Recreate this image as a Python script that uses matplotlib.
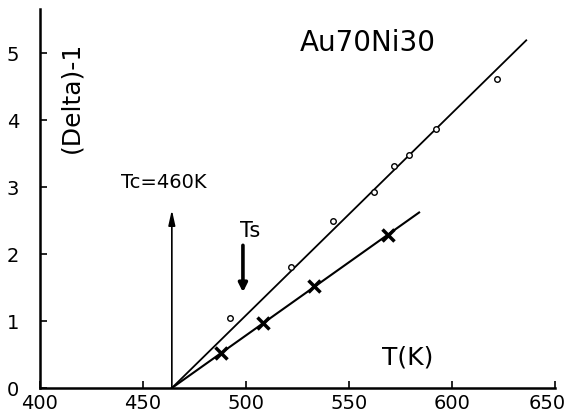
import matplotlib
matplotlib.use("Agg")
import matplotlib.pyplot as plt
from matplotlib.transforms import ScaledTranslation

# Data
circle_T = [492, 522, 542, 562, 572, 579, 592, 622]
circle_v = [1.05, 1.80, 2.49, 2.92, 3.32, 3.48, 3.86, 4.62]
cross_T = [488, 508, 533, 569]
cross_v = [0.53, 0.97, 1.52, 2.29]
upper_T = [464, 636]
upper_v = [0.0, 5.19]
lower_T = [464, 584]
lower_v = [0.0, 2.62]
tc_T = 464
tc_top = 2.66
ts_T = 498.5
ts_v = [2.13, 1.43]
x_ticks = [400, 450, 500, 550, 600, 650]
y_ticks = [0, 1, 2, 3, 4, 5]

plt.rcParams['font.family'] = ['DejaVu Sans']
fig = plt.figure(figsize=(5.67, 4.13), dpi=100)
ax = fig.add_axes([0.0705, 0.0605, 0.9085, 0.9165])
ax.set_xlim(400, 650)
ax.set_ylim(0, 5.65)

ax.plot(upper_T, upper_v, color='black', lw=1.3)
ax.plot(lower_T, lower_v, color='black', lw=1.5)
ax.plot(circle_T, circle_v, linestyle='none', marker='o', ms=4, mfc='white',
        mec='black', mew=1.0, zorder=3)
ax.plot(cross_T, cross_v, linestyle='none', marker='x', ms=8, color='black',
        mew=2.5, zorder=3)

ax.annotate('', xy=(tc_T, tc_top), xytext=(tc_T, 0),
            arrowprops=dict(arrowstyle='-|>,head_length=0.9,head_width=0.2',
                            lw=1.2, color='black', shrinkA=0, shrinkB=0))
ax.annotate('', xy=(ts_T, ts_v[1]), xytext=(ts_T, ts_v[0]),
            arrowprops=dict(arrowstyle='-|>,head_length=0.5,head_width=0.25',
                            lw=2.6, color='black', shrinkA=0, shrinkB=0))

ax.text(460, 3.07, 'Tc=460K', fontsize=14, ha='center', va='center')
ax.text(502, 2.34, 'Ts', fontsize=15, ha='center', va='center')
ax.text(559, 5.15, 'Au70Ni30', fontsize=20, ha='center', va='center')
ax.text(578.5, 0.46, 'T(K)', fontsize=18, ha='center', va='center')
ax.text(415, 4.34, '(Delta)-1', fontsize=18, ha='center', va='center',
        rotation=90)

ax.set_xticks(x_ticks)
ax.set_yticks(y_ticks)
ax.tick_params(axis='both', direction='in', length=5, width=1.2, labelsize=14)
ax.tick_params(axis='y', pad=15)
ax.tick_params(axis='x', pad=4)
for s in ['top', 'right']:
    ax.spines[s].set_visible(False)
for s in ['left', 'bottom']:
    ax.spines[s].set_linewidth(1.8)

last = ax.xaxis.get_major_ticks()[-1].label1
last.set_transform(last.get_transform() +
                   ScaledTranslation(-6 / 72, 0, fig.dpi_scale_trans))

fig.savefig('out.png', dpi=100)
